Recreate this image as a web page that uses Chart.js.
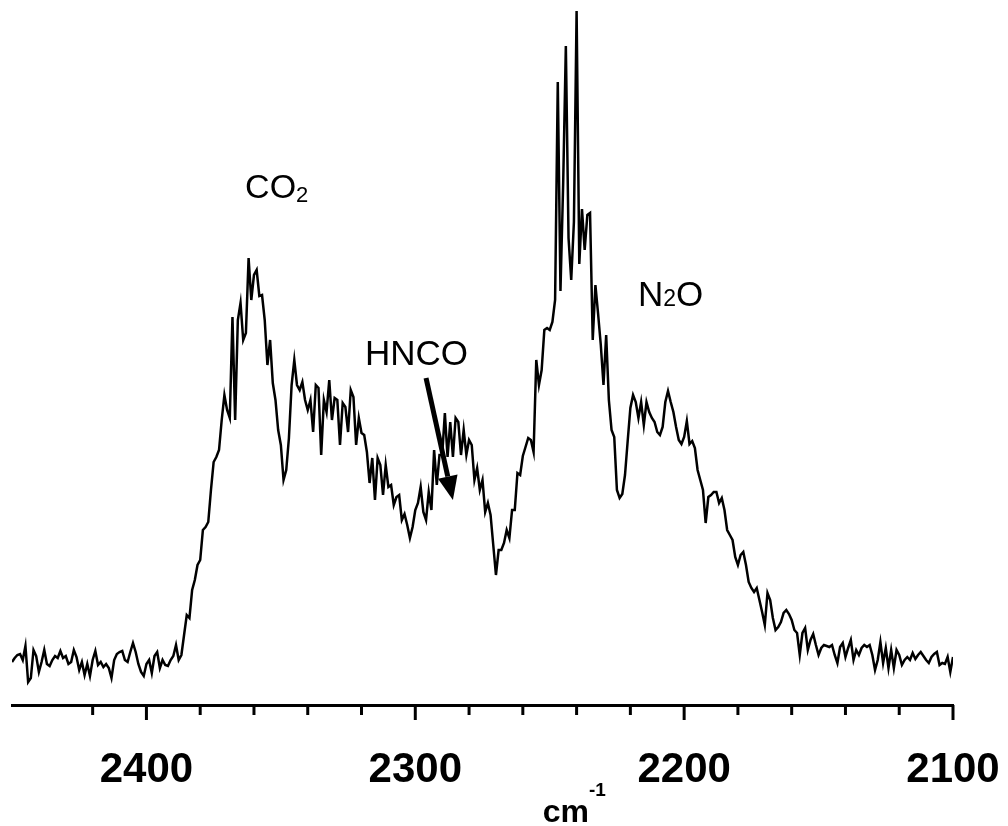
<!DOCTYPE html>
<html>
<head>
<meta charset="utf-8">
<script src="https://cdn.jsdelivr.net/npm/chart.js@4.4.1/dist/chart.umd.min.js"></script>
<style>
  html, body { margin: 0; padding: 0; background: #fff; }
  #wrap { width: 1008px; height: 826px; }
</style>
</head>
<body>
<div id="wrap"><canvas id="spectrum" width="1008" height="826"></canvas></div>
<script>
// spectrum grid: 2450 -> 2100 cm-1, 1 cm-1 step
const wnStart = 2450;
const wnStep = -1;
// absorbance (arbitrary units), one value per grid point
const absorbance = [
  43, 47, 50, 51, 45, 59, 23, 27, 55, 49,
  33, 43, 55, 41, 39, 45, 49, 47, 54, 47,
  49, 41, 43, 55, 48, 35, 43, 30, 41, 29,
  45, 54, 40, 43, 38, 41, 37, 27, 45, 51,
  53, 54, 45, 43, 53, 62, 53, 41, 33, 29,
  41, 45, 32, 49, 53, 37, 45, 40, 39, 45,
  49, 60, 45, 50, 70, 90, 87, 115, 125, 140,
  145, 175, 178, 183, 215, 243, 248, 255, 285, 310,
  295, 287, 388, 285, 385, 402, 365, 372, 447, 405,
  430, 435, 409, 410, 385, 340, 365, 322, 305, 275,
  260, 225, 235, 267, 320, 345, 320, 315, 323, 305,
  295, 305, 273, 320, 317, 250, 305, 293, 325, 285,
  307, 305, 260, 302, 298, 273, 315, 308, 260, 287,
  272, 270, 253, 222, 247, 205, 247, 240, 210, 240,
  218, 220, 200, 208, 210, 185, 191, 180, 167, 178,
  195, 202, 218, 193, 185, 213, 195, 255, 220, 250,
  250, 292, 248, 283, 248, 287, 283, 250, 275, 250,
  265, 260, 225, 237, 215, 225, 193, 202, 190, 160,
  130, 155, 155, 162, 175, 167, 195, 195, 232, 230,
  249, 258, 267, 265, 253, 345, 320, 335, 375, 377,
  375, 383, 405, 623, 414, 521, 659, 467, 425, 483,
  694, 441, 496, 455, 490, 492, 365, 420, 391, 360,
  320, 370, 305, 275, 268, 215, 207, 211, 230, 264,
  297, 310, 303, 287, 303, 280, 303, 293, 287, 283,
  273, 270, 278, 303, 314, 303, 293, 278, 265, 261,
  268, 284, 261, 264, 257, 235, 225, 215, 182, 208,
  210, 213, 213, 202, 207, 195, 175, 170, 165, 148,
  140, 150, 153, 140, 123, 117, 113, 117, 105, 93,
  80, 112, 105, 87, 75, 78, 83, 92, 95, 91,
  85, 75, 72, 50, 72, 77, 55, 65, 71, 60,
  50, 57, 60, 59, 58, 60, 50, 42, 58, 62,
  48, 57, 65, 45, 55, 50, 57, 60, 58, 60,
  50, 35, 45, 63, 42, 57, 37, 55, 37, 55,
  50, 40, 45, 48, 45, 52, 46, 50, 53, 49,
  45, 42, 48, 51, 53, 40, 42, 41, 48, 33,
  48
];
const wavenumbers = absorbance.map((_, i) => wnStart + i * wnStep);
const tickLabels = [2400, 2300, 2200, 2100];
const minorStep = 20;

const FONT = '"Liberation Sans", Arial, sans-serif';

function drawParts(ctx, parts, x, y) {
  // parts: [text, size, bold, dy]
  let cx = x;
  parts.forEach(([text, size, bold, dy]) => {
    ctx.font = (bold ? 'bold ' : '') + size + 'px ' + FONT;
    ctx.fillText(text, cx, y + dy);
    cx += ctx.measureText(text).width;
  });
}

const decorations = {
  id: 'decorations',
  afterDraw(chart) {
    const { ctx, scales: { x, y }, chartArea } = chart;
    ctx.save();
    ctx.strokeStyle = '#000';
    ctx.fillStyle = '#000';
    ctx.lineCap = 'butt';

    // tick marks, long ones where a label sits
    ctx.lineWidth = 3;
    x.ticks.forEach(t => {
      const px = x.getPixelForValue(t.value);
      const len = tickLabels.includes(t.value) ? 15 : 10;
      ctx.beginPath();
      ctx.moveTo(px, chartArea.bottom);
      ctx.lineTo(px, chartArea.bottom + len);
      ctx.stroke();
    });

    ctx.textAlign = 'left';
    ctx.textBaseline = 'alphabetic';

    // band labels
    drawParts(ctx, [['CO', 34, false, 0], ['2', 22, false, 4]],
      x.getPixelForValue(2363.3), y.getPixelForValue(507));
    drawParts(ctx, [['N', 35, false, 0], ['2', 23, false, 0], ['O', 35, false, 0]],
      x.getPixelForValue(2217.2), y.getPixelForValue(399));
    drawParts(ctx, [['HNCO', 35, false, 0]],
      x.getPixelForValue(2318.7), y.getPixelForValue(340));

    // arrow to the HNCO band
    const ax0 = x.getPixelForValue(2296.0), ay0 = y.getPixelForValue(327);
    const ax1 = x.getPixelForValue(2286.0), ay1 = y.getPixelForValue(205);
    const ang = Math.atan2(ay1 - ay0, ax1 - ax0);
    const headLen = 24, headHalf = 10;
    const bx = ax1 - headLen * Math.cos(ang), by = ay1 - headLen * Math.sin(ang);
    ctx.lineWidth = 5;
    ctx.beginPath();
    ctx.moveTo(ax0, ay0);
    ctx.lineTo(bx, by);
    ctx.stroke();
    ctx.beginPath();
    ctx.moveTo(ax1, ay1);
    ctx.lineTo(bx + headHalf * Math.sin(ang), by - headHalf * Math.cos(ang));
    ctx.lineTo(bx - headHalf * Math.sin(ang), by + headHalf * Math.cos(ang));
    ctx.closePath();
    ctx.fill();

    // axis title cm^-1
    drawParts(ctx, [['cm', 32, true, 0], ['-1', 19, true, -26]],
      x.getPixelForValue(2252.6), chartArea.bottom + 117);

    ctx.restore();
  }
};

new Chart(document.getElementById('spectrum').getContext('2d'), {
  type: 'line',
  data: {
    datasets: [{
      data: wavenumbers.map((wn, i) => ({ x: wn, y: absorbance[i] })),
      borderColor: '#000',
      borderWidth: 2.5,
      pointRadius: 0,
      tension: 0,
      fill: false
    }]
  },
  options: {
    responsive: false,
    animation: false,
    events: [],
    layout: { padding: { left: 12, right: 55, top: 5, bottom: 31 } },
    plugins: { legend: { display: false }, tooltip: { enabled: false } },
    scales: {
      x: {
        type: 'linear',
        reverse: true,
        min: 2100,
        max: 2450,
        afterBuildTicks: scale => {
          scale.ticks = scale.ticks.filter(t => t.value % minorStep === 0);
        },
        afterFit: scale => {
          scale.height = 90;
          scale.paddingLeft = 0;
          scale.paddingRight = 0;
        },
        ticks: {
          stepSize: minorStep,
          autoSkip: false,
          maxRotation: 0,
          padding: 40,
          color: '#000',
          font: { family: FONT, size: 42, weight: 'bold' },
          callback: v => tickLabels.includes(v) ? String(v) : ''
        },
        grid: { drawOnChartArea: false, drawTicks: false },
        border: { display: true, width: 3, color: '#000' }
      },
      y: {
        display: false,
        min: 0,
        max: 700
      }
    }
  },
  plugins: [decorations]
});
</script>
</body>
</html>
